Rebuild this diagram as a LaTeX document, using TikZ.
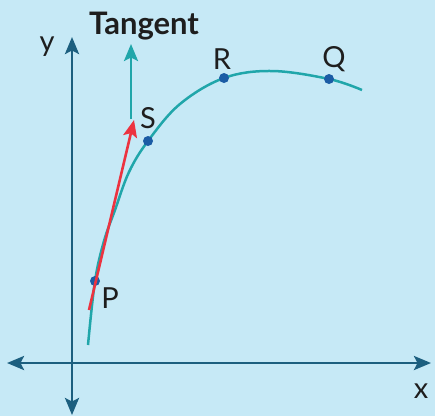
\documentclass[tikz,border=0pt]{standalone}
\usepackage{fontspec}
\setmainfont{Lato}
\usetikzlibrary{arrows.meta}
\definecolor{bgblue}{HTML}{C6E9F6}
\definecolor{axisblue}{HTML}{1C5F7F}
\definecolor{curveteal}{HTML}{20A6AA}
\definecolor{dotblue}{HTML}{1B5CA5}
\definecolor{tanred}{HTML}{EC3340}
\definecolor{labelblack}{HTML}{1E1E1E}
\begin{document}
\begin{tikzpicture}[x=1pt, y=-1pt,
    axis/.style={axisblue, line width=2.8pt, {Stealth[length=17pt, width=14pt, inset=3.5pt]}-{Stealth[length=17pt, width=14pt, inset=3.5pt]}},
    curve/.style={curveteal, line width=2.5pt},
    tangent/.style={tanred, line width=2.6pt, -{Stealth[length=17pt, width=14pt, inset=3.5pt]}},
    vertical/.style={curveteal, line width=2.6pt, -{Stealth[length=17pt, width=14pt, inset=3.5pt]}},
    pt/.style={circle, fill=dotblue, inner sep=0pt, minimum size=10pt},
    lbl/.style={text=labelblack, font=\fontsize{29}{34}\selectfont, inner sep=0pt}
]
    % background and bounding box
    \fill[bgblue] (0,0) rectangle (435,416);
    \useasboundingbox (0,0) rectangle (435,416);

    % axes
    \coordinate (xleft) at (7,363);
    \coordinate (xright) at (431,363);
    \coordinate (ytop) at (72,37);
    \coordinate (ybottom) at (72,415);
    \draw[axis] (xleft) -- (xright);
    \draw[axis] (ybottom) -- (ytop);
    \node[lbl] (lblx) at (421,391) {x};
    \node[lbl] (lbly) at (47,47) {y};

    % the curve
    \draw[curve] plot[smooth, tension=0.6] coordinates {
        (88,345) (95,281) (104,241) (115,210) (129,172) (148,141)
        (180,104) (224,78) (272,71) (329,79) (362,90)};

    % points on the curve
    \node[pt] (P) at (95,281) {};
    \node[pt] (S) at (148,141) {};
    \node[pt] (R) at (224,78) {};
    \node[pt] (Q) at (329,79) {};
    \node[lbl] (lblP) at (110,298) {P};
    \node[lbl] (lblS) at (148,118) {S};
    \node[lbl] (lblR) at (222,59) {R};
    \node[lbl] (lblQ) at (334,59) {Q};

    % tangent at P
    \coordinate (tanstart) at (89,310);
    \coordinate (tanend) at (134,120);
    \draw[tangent] (tanstart) -- (tanend);

    % tangent marker
    \coordinate (markbase) at (131,119);
    \coordinate (marktop) at (131,44);
    \draw[vertical] (markbase) -- (marktop);
    \node[lbl, font=\bfseries\fontsize{31}{36}\selectfont] (lbltangent) at (144,26) {Tangent};
\end{tikzpicture}
\end{document}
